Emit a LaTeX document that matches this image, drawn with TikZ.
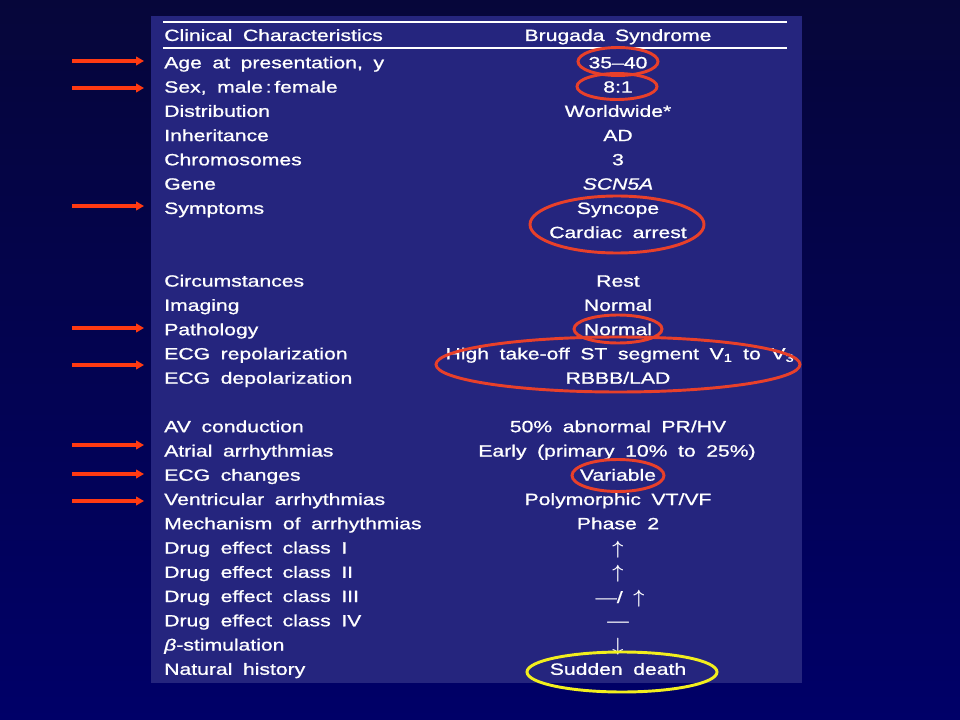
\documentclass[tikz,border=0pt]{standalone}
\usepackage{fontspec}
\setmainfont{Liberation Sans}[FakeStretch=1.3, WordSpace=1.8, FakeBold=1]
\usetikzlibrary{arrows.meta}
\definecolor{bgtop}{HTML}{06063A}
\definecolor{bgbot}{HTML}{000068}
\definecolor{panel}{HTML}{25257E}
\definecolor{ellred}{HTML}{E8402A}
\definecolor{arrred}{HTML}{FF3A12}
\definecolor{ellyel}{HTML}{F2EE1E}
\newcommand{\upar}{{\fontsize{15}{15}\selectfont$\boldsymbol{\uparrow}$}}
\newcommand{\dnar}{{\fontsize{15}{15}\selectfont$\boldsymbol{\downarrow}$}}
\usepackage{amsmath}
\usepackage{bm}
\renewcommand{\upar}{{\fontsize{15}{15}\selectfont$\bm{\uparrow}$}}
\renewcommand{\dnar}{{\fontsize{15}{15}\selectfont$\bm{\downarrow}$}}
\begin{document}
\begin{tikzpicture}[x=0.75pt,y=-0.75pt,
  txt/.style={text=white, inner sep=0pt, font=\fontsize{12.2}{14}\selectfont},
  lefttxt/.style={txt, anchor=base west},
  righttxt/.style={txt, anchor=base},
  rule/.style={white, line width=1.5pt},
  pointer/.style={arrred, line width=2.3pt, -{Triangle[length=6pt,width=6.5pt]}},
  ring/.style={ellred, line width=2.2pt},
  yring/.style={ellyel, line width=2.2pt}]
\useasboundingbox (0,0) rectangle (960,720);
\shade[top color=bgtop, bottom color=bgbot] (0,0) rectangle (960,720);
\fill[panel] (151,16) rectangle (802,683);
\draw[rule] (163,22) -- (787,22);
\draw[rule] (163,48.5) -- (787,48.5);
% header
\node[lefttxt] (hl) at (164,41) {Clinical Characteristics};
\node[righttxt] (hr) at (618,41) {Brugada Syndrome};
% left column
\node[lefttxt] (l0) at (164,68.3) {Age at presentation, y};
\node[lefttxt] (l1) at (164,92.6) {Sex, male\,:\,female};
\node[lefttxt] (l2) at (164,116.8) {Distribution};
\node[lefttxt] (l3) at (164,141.1) {Inheritance};
\node[lefttxt] (l4) at (164,165.3) {Chromosomes};
\node[lefttxt] (l5) at (164,189.6) {Gene};
\node[lefttxt] (l6) at (164,213.9) {Symptoms};
\node[lefttxt] (l9) at (164,286.6) {Circumstances};
\node[lefttxt] (l10) at (164,310.9) {Imaging};
\node[lefttxt] (l11) at (164,335.2) {Pathology};
\node[lefttxt] (l12) at (164,359.4) {ECG repolarization};
\node[lefttxt] (l13) at (164,383.7) {ECG depolarization};
\node[lefttxt] (l15) at (164,432.2) {AV conduction};
\node[lefttxt] (l16) at (164,456.5) {Atrial arrhythmias};
\node[lefttxt] (l17) at (164,480.7) {ECG changes};
\node[lefttxt] (l18) at (164,505.0) {Ventricular arrhythmias};
\node[lefttxt] (l19) at (164,529.2) {Mechanism of arrhythmias};
\node[lefttxt] (l20) at (164,553.5) {Drug effect class I};
\node[lefttxt] (l21) at (164,577.8) {Drug effect class II};
\node[lefttxt] (l22) at (164,602.0) {Drug effect class III};
\node[lefttxt] (l23) at (164,626.3) {Drug effect class IV};
\node[lefttxt] (l24) at (164,650.5) {\textit{β}-stimulation};
\node[lefttxt] (l25) at (164,674.8) {Natural history};
% right column
\node[righttxt] (r0) at (618,68.3) {35–40};
\node[righttxt] (r1) at (618,92.6) {8:1};
\node[righttxt] (r2) at (618,116.8) {Worldwide*};
\node[righttxt] (r3) at (618,141.1) {AD};
\node[righttxt] (r4) at (618,165.3) {3};
\node[righttxt] (r5) at (618,189.6) {\textit{SCN5A}};
\node[righttxt] (r6) at (618,213.9) {Syncope};
\node[righttxt] (r7) at (618,238.1) {Cardiac arrest};
\node[righttxt] (r9) at (618,286.6) {Rest};
\node[righttxt] (r10) at (618,310.9) {Normal};
\node[righttxt] (r11) at (618,335.2) {Normal};
\node[righttxt] (r12) at (620,359.4) {High take-off ST segment V\textsubscript{1} to V\textsubscript{3}};
\node[righttxt] (r13) at (618,383.7) {RBBB/LAD};
\node[righttxt] (r15) at (618,432.2) {50\% abnormal PR/HV};
\node[righttxt] (r16) at (617,456.5) {Early (primary 10\% to 25\%)};
\node[righttxt] (r17) at (618,480.7) {Variable};
\node[righttxt] (r18) at (618,505.0) {Polymorphic VT/VF};
\node[righttxt] (r19) at (618,529.2) {Phase 2};
\node[righttxt] (r20) at (618,554.5) {\upar};
\node[righttxt] (r21) at (618,578.8) {\upar};
\node[righttxt] (r22) at (620,603.0) {—/ \upar};
\node[righttxt] (r23) at (618,626.3) {—};
\node[righttxt] (r24) at (618,651.5) {\dnar};
\node[righttxt] (r25) at (618,674.8) {Sudden death};
% pointer arrows
\foreach \n/\yy in {a0/61, a1/88, a6/206, a11/328, a12/365, a16/445, a17/474, a18/501}{
  \coordinate (\n s) at (72,\yy);
  \coordinate (\n e) at (144,\yy);
  \draw[pointer] (\n s) -- (\n e);
}
% ellipses
\draw[ring] (618,61.5) ellipse [x radius=40, y radius=14];
\draw[ring] (617,86.5) ellipse [x radius=40, y radius=13];
\draw[ring] (617,224.5) ellipse [x radius=87, y radius=28.5];
\draw[ring] (618,329) ellipse [x radius=44, y radius=14];
\draw[ring] (618,364.5) ellipse [x radius=182, y radius=27.5];
\draw[ring] (618,475.5) ellipse [x radius=46, y radius=16];
\draw[yring] (622,672) ellipse [x radius=95, y radius=20];
\end{tikzpicture}
\end{document}
